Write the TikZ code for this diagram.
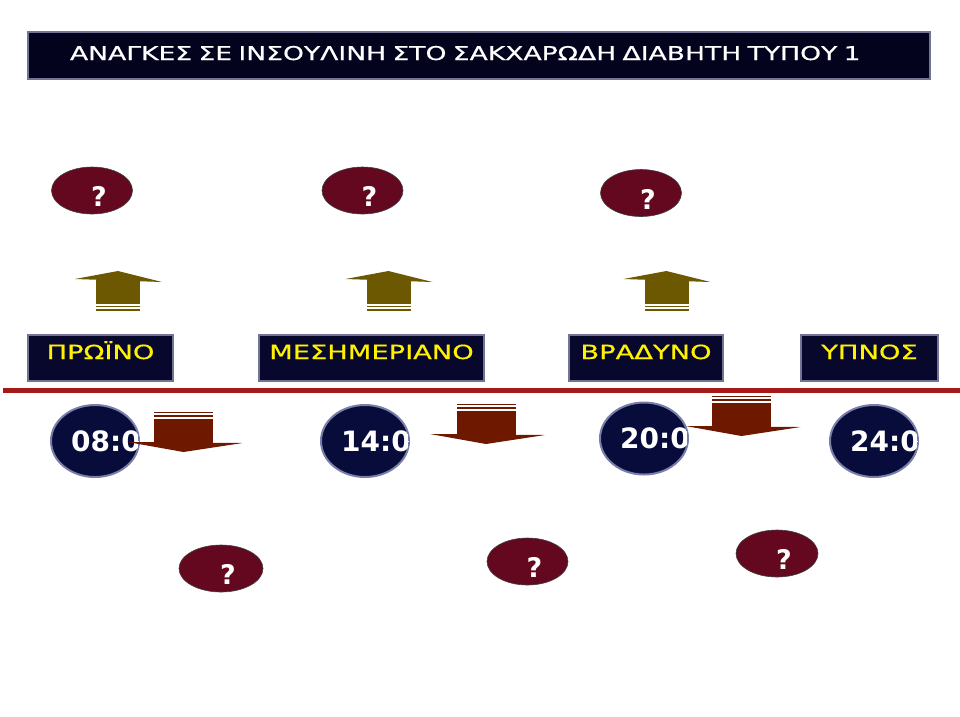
\documentclass[tikz,border=0pt]{standalone}
\usepackage{fontspec}
\usepackage{tikz}
\usetikzlibrary{shapes.geometric}
\usetikzlibrary{backgrounds}
\usetikzlibrary{positioning}
\usetikzlibrary{calc}
\newfontfamily\comicfont[FakeStretch=1.40,FakeBold=0.6]{DejaVu Sans}
\newfontfamily\clockfont{DejaVu Sans}
\definecolor{hdrblue}{RGB}{3,3,30}
\definecolor{labblue}{RGB}{8,8,45}
\definecolor{boxline}{RGB}{115,115,150}
\definecolor{wine}{RGB}{100,8,32}
\definecolor{clockblue}{RGB}{8,12,58}
\definecolor{clockline}{RGB}{120,125,170}
\definecolor{olivearr}{RGB}{107,88,0}
\definecolor{brownarr}{RGB}{110,24,0}
\definecolor{timeline}{RGB}{165,25,25}
\newcommand{\qm}{\hspace*{14pt}?}
\begin{document}
\begin{tikzpicture}[x=1pt,y=-1pt,
hdr/.style={rectangle, fill=hdrblue, draw=boxline, line width=1.2pt, minimum width=902pt, minimum height=47pt, text width=818pt, inner xsep=42pt, align=left, text=white, text height=14pt, text depth=5pt, font=\comicfont\fontsize{19}{23}\selectfont},
lab/.style={rectangle, fill=labblue, draw=boxline, line width=1.5pt, minimum height=46pt, text=yellow, text height=14pt, text depth=12pt, inner sep=0pt, font=\comicfont\fontsize{19.5}{23}\selectfont},
qq/.style={ellipse, fill=wine, draw=black!75, line width=0.6pt, minimum width=81pt, minimum height=47pt, inner sep=0pt, text=white, text height=32pt, text depth=0pt, font=\clockfont\bfseries\fontsize{27}{30}\selectfont},
tm/.style={ellipse, fill=clockblue, draw=clockline, line width=2pt, minimum width=88pt, minimum height=72pt, inner sep=0pt},
tmtext/.style={anchor=west, inner sep=0pt, text=white, font=\clockfont\bfseries\fontsize{28}{32}\selectfont},
upa/.style={fill=olivearr},
dna/.style={fill=brownarr}]
\path[use as bounding box, fill=white] (0,0) rectangle (960,716);
% title
\node (title) at (479,55.5) [hdr] {ΑΝΑΓΚΕΣ ΣΕ ΙΝΣΟΥΛΙΝΗ ΣΤΟ ΣΑΚΧΑΡΩΔΗ ΔΙΑΒΗΤΗ ΤΥΠΟΥ 1};
% meals
\node (morning) at (100.5,358) [lab, minimum width=145pt] {ΠΡΩΪΝΟ};
\node (noon) at (371.5,358) [lab, minimum width=225pt] {ΜΕΣΗΜΕΡΙΑΝΟ};
\node (evening) at (646,358) [lab, minimum width=154pt] {ΒΡΑΔΥΝΟ};
\node (sleep) at (869.5,358) [lab, minimum width=137pt] {ΥΠΝΟΣ};
% time axis
\coordinate (axisL) at (3,390);
\coordinate (axisR) at (960,390);
\draw[timeline, line width=5pt] (axisL) -- (axisR);
% questions
\node (qa1) at (92,190.5) [qq] {\qm};
\node (qa2) at (362.5,190.5) [qq] {\qm};
\node (qa3) at (641,193) [qq] {\qm};
\node (qb1) at (221,568.5) [qq, minimum width=84pt] {\qm};
\node (qb2) at (527.5,561.5) [qq] {\qm};
\node (qb3) at (777,553.5) [qq, minimum width=82pt] {\qm};
% clocks
\foreach \n/\x/\y/\t in {t08/95/441/08:00, t14/365/441/14:00, t20/644/438.5/20:00, t24/874/441/24:00} {
\node (\n) at (\x,\y) [tm] {};
\begin{scope}
\clip (\n.center) ellipse [x radius=43pt, y radius=35pt];
\node (\n txt) at ($(\n.west)+(21,0)$) [tmtext] {\t};
\end{scope}
}
% up arrows
\foreach \c in {118,388.5,666.5} {
\fill[upa] (\c-22,280) rectangle (\c+22,304);
\fill[upa] (\c-43,279) -- (\c,271) -- (\c+44,282) -- cycle;
\fill[upa] (\c-22,305.5) rectangle (\c+22,307);
\fill[upa] (\c-22,308.5) rectangle (\c+22,310.5);
}
% down arrows
\foreach \c/\t in {183.5/419, 486/411, 741.5/403} {
\fill[dna] (\c-29.5,\t) rectangle (\c+29.5,\t+24);
\fill[dna] (\c-56,\t+23) -- (\c+59,\t+24) -- (\c,\t+33) -- cycle;
\fill[dna] (\c-29.5,\t-7.3) rectangle (\c+29.5,\t-5.7);
\fill[dna] (\c-29.5,\t-3.7) rectangle (\c+29.5,\t-1.7);
}
\end{tikzpicture}
\end{document}
